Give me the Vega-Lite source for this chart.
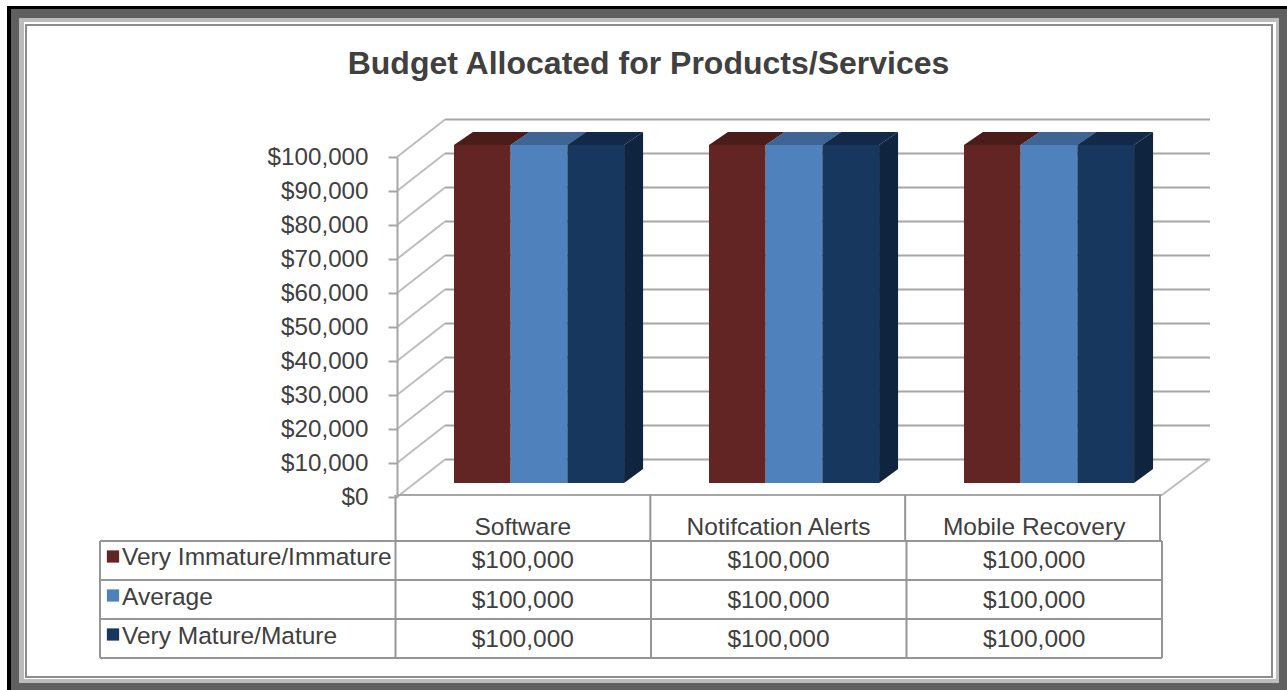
{
"$schema":"https://vega.github.io/schema/vega-lite/v6.json",
"width":1287,"height":690,"padding":0,
"autosize":{"type":"fit","contains":"padding"},
"background":"#ffffff",
"config":{"view":{"stroke":null}},
"datasets":{
"one":[{"part":"frame"}],
"title":[{"title":"Budget Allocated for Products/Services"}],
"ticks":[{"tick":0},{"tick":10000},{"tick":20000},{"tick":30000},{"tick":40000},{"tick":50000},{"tick":60000},{"tick":70000},{"tick":80000},{"tick":90000},{"tick":100000}],
"bars":[
{"category":"Software","series":"Very Immature/Immature","value":100000},
{"category":"Software","series":"Average","value":100000},
{"category":"Software","series":"Very Mature/Mature","value":100000},
{"category":"Notifcation Alerts","series":"Very Immature/Immature","value":100000},
{"category":"Notifcation Alerts","series":"Average","value":100000},
{"category":"Notifcation Alerts","series":"Very Mature/Mature","value":100000},
{"category":"Mobile Recovery","series":"Very Immature/Immature","value":100000},
{"category":"Mobile Recovery","series":"Average","value":100000},
{"category":"Mobile Recovery","series":"Very Mature/Mature","value":100000}],
"categories":[{"category":"Software"},{"category":"Notifcation Alerts"},{"category":"Mobile Recovery"}],
"series":[{"series":"Very Immature/Immature"},{"series":"Average"},{"series":"Very Mature/Mature"}],
"columns":[{"col":0},{"col":1},{"col":2},{"col":3}]
},
"resolve":{"scale":{"x":"independent","y":"independent","color":"independent","xOffset":"independent"},"axis":{"y":"independent","x":"independent"}},
"layer":[
{"data":{"name":"one"},"mark":{"type":"rect","fill":"#000000"},"encoding":{"x":{"datum":0,"type":"quantitative","scale":{"domain":[0,1],"range":[7,1287]},"axis":null},"x2":{"datum":1},"y":{"datum":0,"type":"quantitative","scale":{"domain":[0,1],"range":[6,690]},"axis":null},"y2":{"datum":1}}},
{"data":{"name":"one"},"mark":{"type":"rect","fill":"#606060"},"encoding":{"x":{"datum":0,"type":"quantitative","scale":{"domain":[0,1],"range":[11,1287]},"axis":null},"x2":{"datum":1},"y":{"datum":0,"type":"quantitative","scale":{"domain":[0,1],"range":[9,690]},"axis":null},"y2":{"datum":1}}},
{"data":{"name":"one"},"mark":{"type":"rect","fill":"#bcbcbc"},"encoding":{"x":{"datum":0,"type":"quantitative","scale":{"domain":[0,1],"range":[19,1279]},"axis":null},"x2":{"datum":1},"y":{"datum":0,"type":"quantitative","scale":{"domain":[0,1],"range":[18,683]},"axis":null},"y2":{"datum":1}}},
{"data":{"name":"one"},"mark":{"type":"rect","fill":"#ffffff"},"encoding":{"x":{"datum":0,"type":"quantitative","scale":{"domain":[0,1],"range":[24,1276]},"axis":null},"x2":{"datum":1},"y":{"datum":0,"type":"quantitative","scale":{"domain":[0,1],"range":[22,679]},"axis":null},"y2":{"datum":1}}},
{"data":{"name":"one"},"mark":{"type":"rect","fill":"#ffffff","stroke":"#8c8c8c","strokeWidth":2},"encoding":{"x":{"datum":0,"type":"quantitative","scale":{"domain":[0,1],"range":[26,1272]},"axis":null},"x2":{"datum":1},"y":{"datum":0,"type":"quantitative","scale":{"domain":[0,1],"range":[25,677]},"axis":null},"y2":{"datum":1}}},
{"data":{"name":"title"},"mark":{"type":"text","font":"Liberation Sans","fontWeight":"bold","fontSize":32,"color":"#404040","baseline":"middle","align":"center"},"encoding":{"text":{"field":"title","type":"nominal"},"x":{"datum":0.5,"type":"quantitative","scale":{"domain":[0,1],"range":[349,948]},"axis":null},"y":{"datum":0.5,"type":"quantitative","scale":{"domain":[0,1],"range":[44,84]},"axis":null}}},
{"data":{"name":"ticks"},"mark":{"type":"rule","color":"#a6a6a6","strokeWidth":2,"yOffset":-37.5,"y2Offset":-37.5},"encoding":{"x":{"datum":0,"type":"quantitative","scale":{"domain":[0,1],"range":[445,1210]},"axis":null},"x2":{"datum":1},"y":{"field":"tick","type":"quantitative","scale":{"domain":[0,100000],"range":[497,157]},"axis":{"title":null,"values":[0,10000,20000,30000,40000,50000,60000,70000,80000,90000,100000],"format":"$,.0f","orient":"left","offset":-397,"grid":false,"domainColor":"#a6a6a6","domainWidth":2,"tickColor":"#a6a6a6","tickWidth":2,"tickSize":9,"labelPadding":20,"labelFont":"Liberation Sans","labelFontSize":24.2,"labelColor":"#404040","zindex":1}}}},
{"data":{"name":"ticks"},"mark":{"type":"rule","color":"#bdbdbd","strokeWidth":2,"y2Offset":-37.5},"encoding":{"x":{"datum":0,"type":"quantitative","scale":{"domain":[0,1],"range":[397,445]},"axis":null},"x2":{"datum":1},"y":{"field":"tick","type":"quantitative","scale":{"domain":[0,100000],"range":[497,157]},"axis":null},"y2":{"field":"tick"}}},
{"data":{"name":"one"},"mark":{"type":"rule","color":"#a6a6a6","strokeWidth":2},"encoding":{"x":{"datum":0,"type":"quantitative","scale":{"domain":[0,1],"range":[397,1162]},"axis":null},"x2":{"datum":1},"y":{"datum":0,"type":"quantitative","scale":{"domain":[0,1],"range":[495,157]},"axis":null}}},
{"data":{"name":"one"},"mark":{"type":"rule","color":"#bdbdbd","strokeWidth":2,"y2Offset":-36},"encoding":{"x":{"datum":0,"type":"quantitative","scale":{"domain":[0,1],"range":[1162,1210]},"axis":null},"x2":{"datum":1},"y":{"datum":0,"type":"quantitative","scale":{"domain":[0,1],"range":[495,157]},"axis":null},"y2":{"datum":0}}},
{"data":{"name":"bars"},"mark":{"type":"bar"},"encoding":{
"x":{"field":"category","type":"nominal","sort":null,"scale":{"type":"band","domain":["Software","Notifcation Alerts","Mobile Recovery"],"range":[411.5,1176.5],"paddingInner":0.3333,"paddingOuter":0.1667},"axis":null},
"xOffset":{"field":"series","type":"nominal","sort":null,"scale":{"domain":["Very Immature/Immature","Average","Very Mature/Mature"]}},
"y":{"field":"value","type":"quantitative","scale":{"domain":[0,100000],"range":[483,145]},"axis":null},
"color":{"field":"series","type":"nominal","scale":{"domain":["Very Immature/Immature","Average","Very Mature/Mature"],"range":["#632523","#4f81bd","#17375e"]},"legend":null}}},
{"data":{"name":"bars"},"mark":{"type":"point","filled":true,"opacity":1,"size":4,"strokeWidth":0,"shape":"M-28.4,0L-9.4,-13L47.4,-13L28.4,0Z"},"encoding":{
"x":{"field":"category","type":"nominal","sort":null,"scale":{"type":"band","domain":["Software","Notifcation Alerts","Mobile Recovery"],"range":[411.5,1176.5],"paddingInner":0.3333,"paddingOuter":0.1667},"axis":null},
"xOffset":{"field":"series","type":"nominal","sort":null,"scale":{"domain":["Very Immature/Immature","Average","Very Mature/Mature"]}},
"y":{"field":"value","type":"quantitative","scale":{"domain":[0,100000],"range":[483,145]},"axis":null},
"color":{"field":"series","type":"nominal","scale":{"domain":["Very Immature/Immature","Average","Very Mature/Mature"],"range":["#4a1c1a","#3e6593","#12294a"]},"legend":null}}},
{"data":{"name":"bars"},"transform":[{"filter":"datum.series === 'Very Mature/Mature'"}],"mark":{"type":"point","filled":true,"opacity":1,"size":4,"strokeWidth":0,"color":"#0f243e","shape":"M28.4,0L47.4,-13L47.4,324L28.4,338Z"},"encoding":{
"x":{"field":"category","type":"nominal","sort":null,"scale":{"type":"band","domain":["Software","Notifcation Alerts","Mobile Recovery"],"range":[411.5,1176.5],"paddingInner":0.3333,"paddingOuter":0.1667},"axis":null},
"xOffset":{"field":"series","type":"nominal","sort":null,"scale":{"domain":["Very Immature/Immature","Average","Very Mature/Mature"]}},
"y":{"field":"value","type":"quantitative","scale":{"domain":[0,100000],"range":[483,145]},"axis":null}}},
{"data":{"name":"columns"},"mark":{"type":"rule","color":"#969696","strokeWidth":2},"encoding":{"x":{"field":"col","type":"quantitative","scale":{"domain":[0,3],"range":[395.5,1160]},"axis":null},"y":{"datum":0,"type":"quantitative","scale":{"domain":[0,1],"range":[495,541]},"axis":null},"y2":{"datum":1}}},
{"data":{"name":"columns"},"mark":{"type":"rule","color":"#969696","strokeWidth":2},"encoding":{"x":{"field":"col","type":"quantitative","scale":{"domain":[0,3],"range":[395.5,1162]},"axis":null},"y":{"datum":0,"type":"quantitative","scale":{"domain":[0,1],"range":[541,658]},"axis":null},"y2":{"datum":1}}},
{"data":{"name":"columns"},"mark":{"type":"rule","color":"#969696","strokeWidth":2},"encoding":{"x":{"datum":0,"type":"quantitative","scale":{"domain":[0,1],"range":[100,1162]},"axis":null},"x2":{"datum":1},"y":{"field":"col","type":"quantitative","scale":{"domain":[0,3],"range":[541,658]},"axis":null}}},
{"data":{"name":"one"},"mark":{"type":"rule","color":"#969696","strokeWidth":2},"encoding":{"x":{"datum":0,"type":"quantitative","scale":{"domain":[0,1],"range":[100,1162]},"axis":null},"y":{"datum":0,"type":"quantitative","scale":{"domain":[0,1],"range":[541,658]},"axis":null},"y2":{"datum":1}}},
{"data":{"name":"categories"},"mark":{"type":"text","font":"Liberation Sans","fontSize":24.5,"color":"#404040","baseline":"middle","align":"center"},"encoding":{"text":{"field":"category","type":"nominal"},"x":{"field":"category","type":"nominal","sort":null,"scale":{"type":"band","domain":["Software","Notifcation Alerts","Mobile Recovery"],"range":[395,1162]},"axis":null},"y":{"datum":0.5,"type":"quantitative","scale":{"domain":[0,1],"range":[513,543]},"axis":null}}},
{"data":{"name":"bars"},"mark":{"type":"text","font":"Liberation Sans","fontSize":24.5,"color":"#404040","baseline":"middle","align":"center"},"encoding":{"text":{"field":"value","type":"quantitative","format":"$,.0f"},"x":{"field":"category","type":"nominal","sort":null,"scale":{"type":"band","domain":["Software","Notifcation Alerts","Mobile Recovery"],"range":[395,1162]},"axis":null},"y":{"field":"series","type":"nominal","sort":null,"scale":{"type":"band","domain":["Very Immature/Immature","Average","Very Mature/Mature"],"range":[541,660]},"axis":null}}},
{"data":{"name":"series"},"mark":{"type":"text","font":"Liberation Sans","fontSize":24.5,"color":"#404040","baseline":"middle","align":"left","yOffset":-3},"encoding":{"text":{"field":"series","type":"nominal"},"x":{"datum":0,"type":"quantitative","scale":{"domain":[0,1],"range":[122,395]},"axis":null},"y":{"field":"series","type":"nominal","sort":null,"scale":{"type":"band","domain":["Very Immature/Immature","Average","Very Mature/Mature"],"range":[541,660]},"axis":null}}},
{"data":{"name":"series"},"mark":{"type":"point","shape":"square","filled":true,"opacity":1,"size":150,"strokeWidth":0,"yOffset":-4},"encoding":{"x":{"datum":0,"type":"quantitative","scale":{"domain":[0,1],"range":[113,122]},"axis":null},"y":{"field":"series","type":"nominal","sort":null,"scale":{"type":"band","domain":["Very Immature/Immature","Average","Very Mature/Mature"],"range":[541,658]},"axis":null},"color":{"field":"series","type":"nominal","scale":{"domain":["Very Immature/Immature","Average","Very Mature/Mature"],"range":["#632523","#4f81bd","#17375e"]},"legend":null}}}
]
}
